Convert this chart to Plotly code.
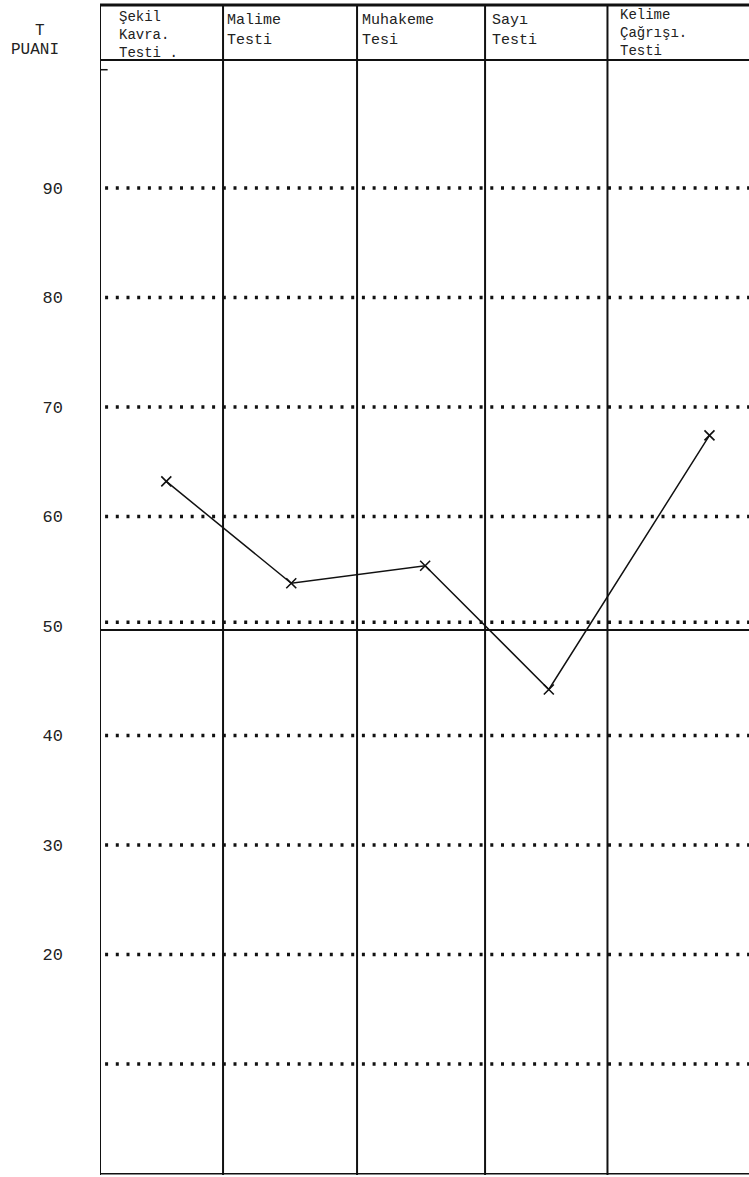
import plotly.graph_objects as go

# ---- data ----
tests = ["Şekil Kavra. Testi", "Malime Testi", "Muhakeme Tesi", "Sayı Testi", "Kelime Çağrışı. Testi"]
header_lines = [["Şekil", "Kavra.", "Testi ."], ["Malime", "Testi"], ["Muhakeme", "Tesi"],
                ["Sayı", "Testi"], ["Kelime", "Çağrışı.", "Testi"]]
t_scores = [63.2, 53.9, 55.5, 44.2, 67.4]
point_x = [0.52, 1.50, 2.55, 3.52, 4.78]
grid_values = [10, 20, 30, 40, 50, 60, 70, 80, 90]
tick_values = [20, 30, 40, 50, 60, 70, 80, 90]
tick_labels = ["20", "30", "40", "50", "60", "70", "80", "90"]

# ---- layout constants ----
col_edges = [0, 0.965, 2.016, 3.02, 3.98]
text_x = [0.133, 0.98, 2.04, 3.06, 4.06]
text_top = [7, 10, 10, 10, 5]
text_size = [14, 15, 15, 15, 14]
XR = [0, 5.09]
YR = [-0.14, 106.71]
TOP = 101.69  # header bottom line
W, H, T_, B, L = 749, 1177, 5, 2, 100
ink = "#111111"
mono = "Liberation Mono, Courier New, monospace"

def py(p):  # pixel row -> paper y
    return (H - B - p) / (H - T_ - B)

def px(p):  # pixel column -> paper x
    return (p - L) / (W - L)

fig = go.Figure()
fig.add_trace(go.Scatter(x=point_x, y=t_scores, mode="lines+markers",
                         line=dict(color=ink, width=1.5),
                         marker=dict(symbol="x-thin", size=10, line=dict(color=ink, width=1.6)),
                         text=tests, hoverinfo="text+y", showlegend=False))

shapes = []
for v in grid_values:
    yy = v + 0.35 if v == 50 else v
    shapes.append(dict(type="line", xref="x", yref="y", x0=0.04, x1=XR[1], y0=yy, y1=yy,
                       line=dict(color=ink, width=3.5, dash="3px,7.7px")))
shapes.append(dict(type="line", xref="x", yref="y", x0=-0.05, x1=XR[1], y0=49.63, y1=49.63,
                   line=dict(color=ink, width=2)))
for e in col_edges:
    shapes.append(dict(type="line", xref="x", yref="paper", x0=e, x1=e, y0=0, y1=1,
                       line=dict(color=ink, width=2)))
shapes.append(dict(type="line", xref="x", yref="paper", x0=0, x1=XR[1], y0=1, y1=1,
                   line=dict(color=ink, width=3)))
shapes.append(dict(type="line", xref="x", yref="y", x0=0, x1=XR[1], y0=TOP, y1=TOP,
                   line=dict(color=ink, width=2)))
shapes.append(dict(type="line", xref="x", yref="paper", x0=0, x1=XR[1], y0=0.001, y1=0.001,
                   line=dict(color=ink, width=1.5)))
shapes.append(dict(type="line", xref="x", yref="y", x0=-0.06, x1=0.06, y0=100.8, y1=100.8,
                   line=dict(color=ink, width=1.5)))

annotations = []
for i, lines in enumerate(header_lines):
    annotations.append(dict(x=text_x[i], y=py(text_top[i]), xref="x", yref="paper",
                            text="<br>".join(lines), align="left",
                            showarrow=False, xanchor="left", yanchor="top",
                            font=dict(family=mono, size=text_size[i], color="#222")))
annotations.append(dict(x=px(40), y=py(31), xref="paper", yref="paper", text="T", showarrow=False,
                        font=dict(family=mono, size=16, color="#222"), xanchor="center", yanchor="middle"))
annotations.append(dict(x=px(35), y=py(50), xref="paper", yref="paper", text="PUANI", showarrow=False,
                        font=dict(family=mono, size=16, color="#222"), xanchor="center", yanchor="middle"))

fig.update_layout(
    width=W, height=H, margin=dict(l=L, r=0, t=T_, b=B),
    paper_bgcolor="white", plot_bgcolor="white",
    shapes=shapes, annotations=annotations,
    xaxis=dict(range=XR, showgrid=False, zeroline=False, showticklabels=False, showline=False),
    yaxis=dict(range=YR, showgrid=False, zeroline=False, showline=False,
               tickvals=tick_values, ticktext=tick_labels, ticks="",
               ticklabelstandoff=36,
               tickfont=dict(family=mono, size=17, color="#222")),
)
fig.write_html("out.html", config={"displayModeBar": False},
               post_script="document.body.style.margin='0';")
